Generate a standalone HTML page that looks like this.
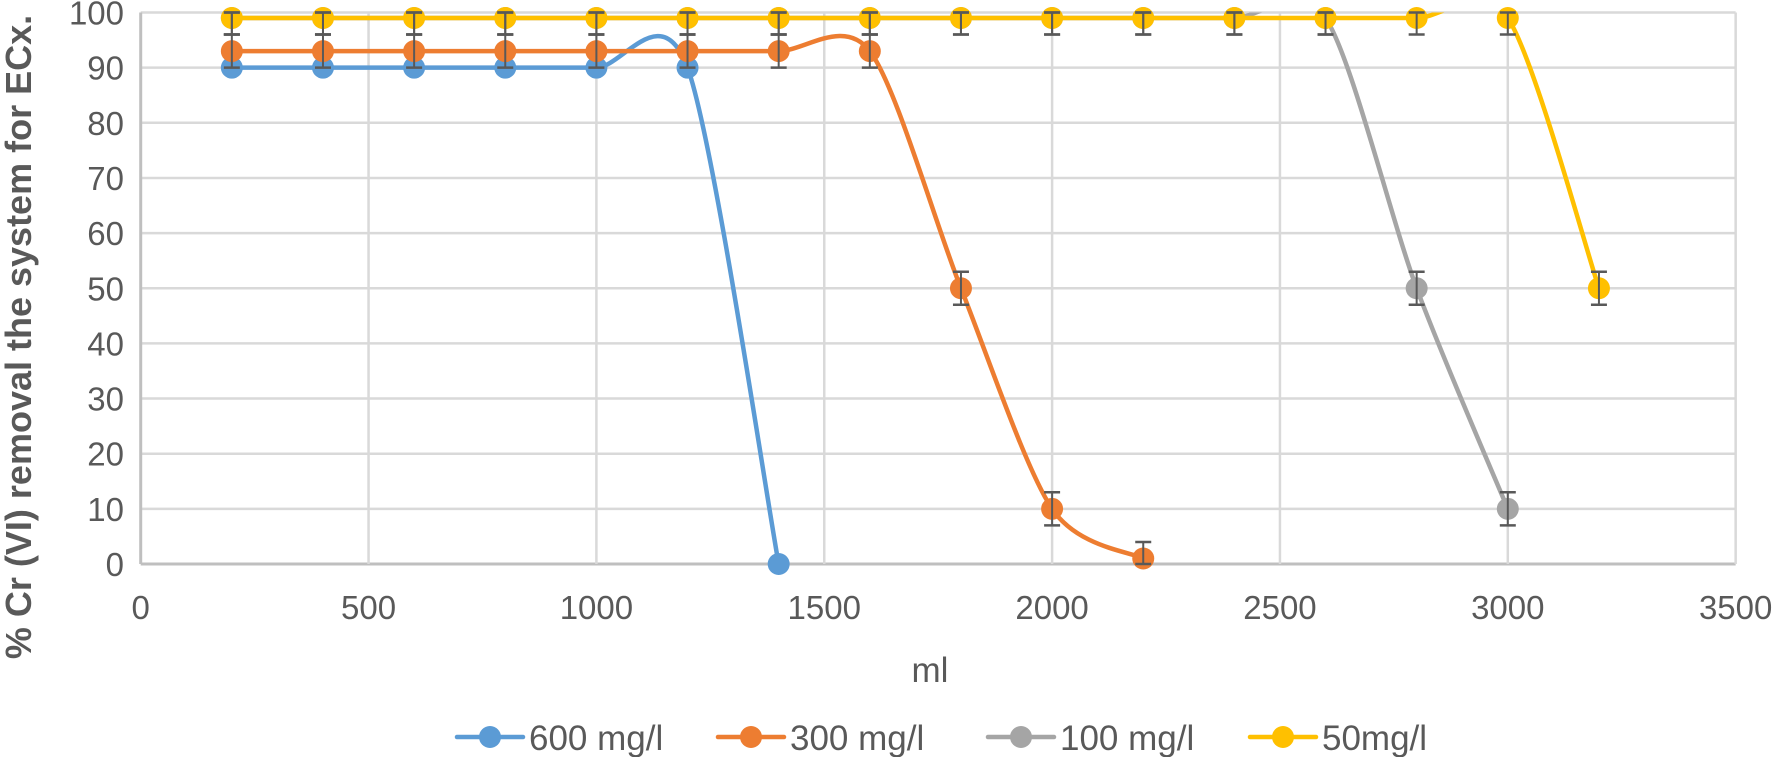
<!DOCTYPE html>
<html><head><meta charset="utf-8"><style>
html,body{margin:0;padding:0;background:#fff;}
svg{display:block;}
text{font-family:"Liberation Sans",sans-serif;fill:#595959;}
</style></head><body>
<svg id="c" width="1773" height="757" xmlns="http://www.w3.org/2000/svg"></svg>
<script>
const svg=document.getElementById('c');
const X0=140.7,PX=0.4557,Y0=564,PY=5.515;
const fx=v=>X0+v*PX, fy=v=>Y0-v*PY;
let h=`<defs><clipPath id="pc"><rect x="${X0-15}" y="${fy(100)}" width="${fx(3500)-X0+30}" height="${Y0-fy(100)+20}"/></clipPath></defs>`;
for(let v=0;v<=100;v+=10){const y=fy(v);h+=`<line x1="${X0}" x2="${fx(3500)}" y1="${y}" y2="${y}" stroke="${v==0?'#bfbfbf':'#d9d9d9'}" stroke-width="${v==0?3:2.5}"/>`;
h+=`<text x="124" y="${y+12}" font-size="33" text-anchor="end">${v}</text>`;}
for(let v=0;v<=3500;v+=500){const x=fx(v);if(v>0)h+=`<line x1="${x}" x2="${x}" y1="${fy(100)}" y2="${Y0}" stroke="#d9d9d9" stroke-width="2.5"/>`;
h+=`<text x="${x}" y="619" font-size="33" text-anchor="middle">${v}</text>`;}
h+=`<line x1="${X0}" x2="${X0}" y1="${fy(100)}" y2="${Y0}" stroke="#bfbfbf" stroke-width="3"/>`;
h+=`<text x="930" y="682" font-size="35" text-anchor="middle">ml</text>`;
h+=`<text transform="translate(31,337) rotate(-90)" font-size="36" font-weight="bold" text-anchor="middle">% Cr (VI) removal the system for ECx.</text>`;
const S=[
 ['#5b9bd5',[[200,90],[400,90],[600,90],[800,90],[1000,90],[1200,90],[1400,0]],false],
 ['#ed7d31',[[200,93],[400,93],[600,93],[800,93],[1000,93],[1200,93],[1400,93],[1600,93],[1800,50],[2000,10],[2200,1]],true],
 ['#a5a5a5',[[200,99],[400,99],[600,99],[800,99],[1000,99],[1200,99],[1400,99],[1600,99],[1800,99],[2000,99],[2200,99],[2400,99],[2600,99],[2800,50],[3000,10]],true],
 ['#ffc000',[[200,99],[400,99],[600,99],[800,99],[1000,99],[1200,99],[1400,99],[1600,99],[1800,99],[2000,99],[2200,99],[2400,99],[2600,99],[2800,99],[3000,99],[3200,50]],true]];
function path(p){p=p.map(q=>[fx(q[0]),fy(q[1])]);let d=`M${p[0][0]},${p[0][1]}`;
for(let i=0;i<p.length-1;i++){const a=p[i-1]||p[i],b=p[i],c=p[i+1],e=p[i+2]||c;
const k=7;
const c1=[b[0]+(c[0]-a[0])/k,b[1]+(c[1]-a[1])/k],c2=[c[0]-(e[0]-b[0])/k,c[1]-(e[1]-b[1])/k];
d+=` C${c1[0]},${c1[1]} ${c2[0]},${c2[1]} ${c[0]},${c[1]}`;}return d;}
let eb='';
S.forEach(([col,p,err])=>{h+=`<path clip-path="url(#pc)" d="${path(p)}" fill="none" stroke="${col}" stroke-width="4.5"/>`;
p.forEach(q=>{const x=fx(q[0]),y=fy(q[1]);h+=`<circle cx="${x}" cy="${y}" r="11" fill="${col}"/>`;
if(err){const t=fy(Math.min(q[1]+3,100)),b=fy(Math.max(q[1]-3,0));eb+=`<line x1="${x}" x2="${x}" y1="${t}" y2="${b}" stroke="#595959" stroke-width="2"/><line x1="${x-8}" x2="${x+8}" y1="${t}" y2="${t}" stroke="#595959" stroke-width="2.5"/><line x1="${x-8}" x2="${x+8}" y1="${b}" y2="${b}" stroke="#595959" stroke-width="2.5"/>`;}});});
h+=eb;
const L=[['#5b9bd5',457,'600 mg/l'],['#ed7d31',718,'300 mg/l'],['#a5a5a5',988,'100 mg/l'],['#ffc000',1250,'50mg/l']];
L.forEach(([c,x,t])=>{h+=`<line x1="${x}" x2="${x+66}" y1="737" y2="737" stroke="${c}" stroke-width="4.5" stroke-linecap="round"/><circle cx="${x+33}" cy="737" r="11" fill="${c}"/><text x="${x+72}" y="750" font-size="35">${t}</text>`;});
svg.innerHTML=h;
</script>
</body></html>
